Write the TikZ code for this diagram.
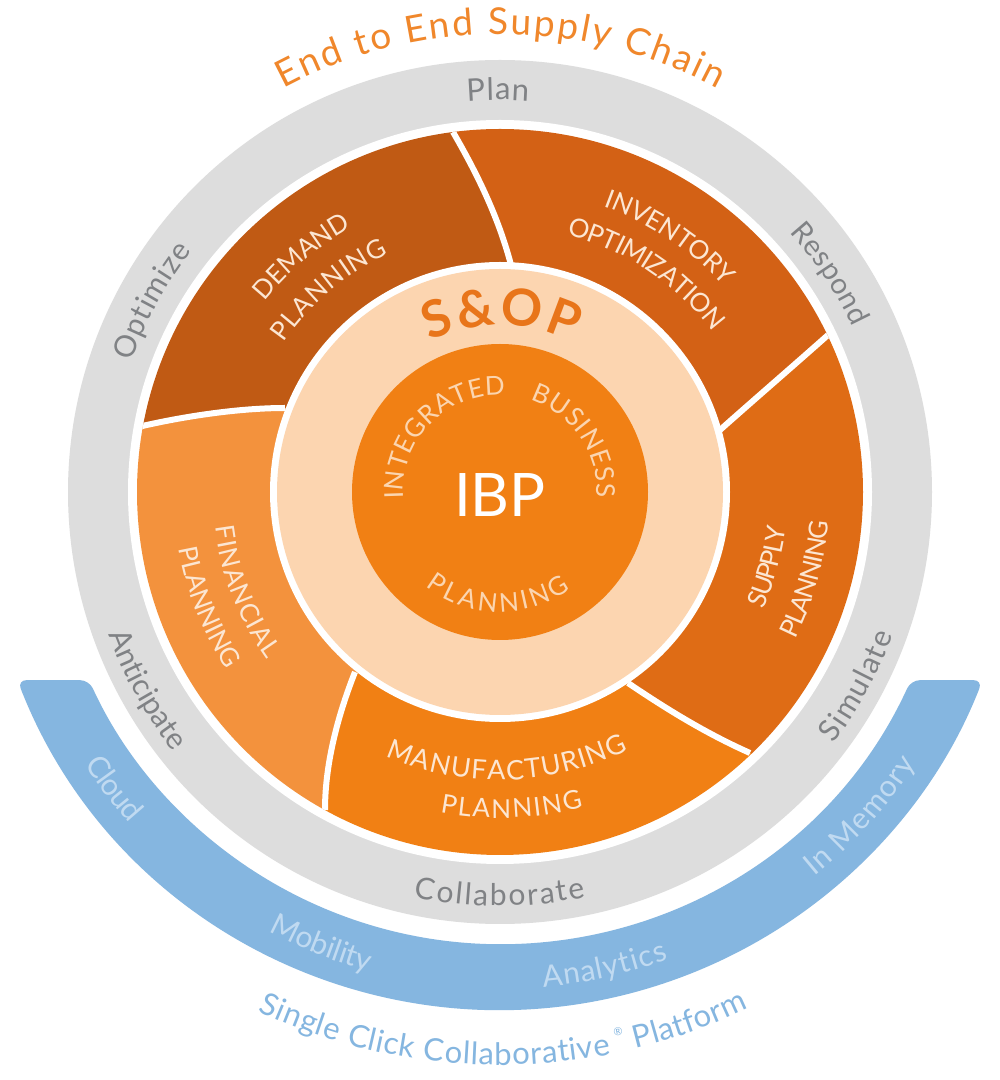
\documentclass[tikz,border=0pt]{standalone}
\usepackage{fontspec}
\setmainfont{Lato}
\definecolor{ringgray}{HTML}{DDDDDD}
\definecolor{graytext}{HTML}{808285}
\definecolor{bandblue}{HTML}{85B6E0}
\definecolor{bandtext}{HTML}{C0DAF1}
\definecolor{titleorange}{HTML}{F0872B}
\definecolor{demandc}{HTML}{C05A14}
\definecolor{inventoryc}{HTML}{D36115}
\definecolor{supplyc}{HTML}{DF6C15}
\definecolor{manufc}{HTML}{F18014}
\definecolor{financec}{HTML}{F3923D}
\definecolor{peach}{HTML}{FCD5B0}
\definecolor{sopc}{HTML}{E8751A}
\definecolor{labelc}{HTML}{FCE6D2}
\definecolor{ibptext}{HTML}{FBD5B0}
\newdimen\arcwtot
\newcount\arcn
\def\arcextra{}
\def\arcspacetok{\ }
\makeatletter
% radius, start angle, end angle, font size, colour, text (word gaps written as "\ ")
\newcommand{\arcmeasure}[2]{%
  \setbox0\hbox{\pgfinterruptpicture\fontsize{#1}{#1}\selectfont\arcextra #2\endpgfinterruptpicture}}
\newcommand{\arctext}[6]{%
  \begingroup
  \arcwtot=0pt \arcn=0 %
  \@tfor\arcch:=#6\do{%
    \arcmeasure{#4}{\arcch}%
    \advance\arcwtot by \wd0 %
    \advance\arcn by 1 %
  }%
  \pgfmathsetmacro\arcdir{(#3>#2)?1:-1}%
  \pgfmathsetmacro\arcgap{(abs(#3-#2)*pi/180*#1-\the\arcwtot)/(\the\arcn-1)}%
  \def\arcs{0}%
  \@tfor\arcch:=#6\do{%
    \arcmeasure{#4}{\arcch}%
    \pgfmathsetmacro\arcw{\the\wd0}%
    \pgfmathsetmacro\arcang{#2+\arcdir*(\arcs+\arcw/2)/#1*180/pi}%
    \pgfmathsetmacro\arcrot{\arcang+\arcdir*90}%
    \ifx\arcch\arcspacetok\else
      \node[anchor=base,inner sep=0pt,rotate=\arcrot,text=#5,
            font=\fontsize{#4}{#4}\selectfont\arcextra] at (\arcang:#1) {\arcch};%
    \fi
    \pgfmathsetmacro\arcs{\arcs+\arcw+\arcgap}%
  }%
  \endgroup
}
\newcommand{\boldarctext}[6]{\begingroup\def\arcextra{\bfseries}\arctext{#1}{#2}{#3}{#4}{#5}{#6}\endgroup}
\makeatother
\tikzset{divider/.style={draw=white,line width=6pt}}
\begin{document}
\begin{tikzpicture}[x=1pt,y=1pt]
\useasboundingbox (0,0) rectangle (1000,1080);
\fill[white] (0,0) rectangle (1000,1080);
\begin{scope}[shift={(500,588)}]
  % platform band
  \fill[bandblue,rounded corners=9pt]
    (201.3:518) arc[start angle=201.3,end angle=338.7,radius=518]
    -- (-24.6:452) arc[start angle=-24.6,end angle=-155.4,radius=452] -- cycle;
  % process ring
  \fill[ringgray] (0,0) circle[radius=432];
  \fill[white] (0,0) circle[radius=372];
\end{scope}
% planning sectors
\begin{scope}
  \clip (500,588) circle[radius=363];
  \fill[demandc] (500,588) -- (511,815) .. controls (498,865) and (475,910) .. (453,948)
    -- (440,975) -- (100,975) -- (100,650) -- (138,653)
    .. controls (185,664) and (240,672) .. (285,672) -- cycle;
  \fill[inventoryc] (500,588) -- (511,815) .. controls (498,865) and (475,910) .. (453,948)
    -- (440,975) -- (900,975) -- (850,765) -- (828,745)
    .. controls (792,713) and (756,682) .. (720,650) -- cycle;
  \fill[supplyc] (500,588) -- (720,650) .. controls (756,682) and (792,713) .. (828,745)
    -- (850,765) -- (950,765) -- (950,250) -- (770,315) -- (750,327)
    .. controls (705,347) and (665,372) .. (628,397) -- cycle;
  \fill[manufc] (500,588) -- (628,397) .. controls (665,372) and (705,347) .. (750,327)
    -- (770,315) -- (770,100) -- (320,100) -- (325,270)
    .. controls (325,320) and (340,370) .. (355,408) -- cycle;
  \fill[financec] (500,588) -- (355,408) .. controls (340,370) and (325,320) .. (325,270)
    -- (320,100) -- (50,100) -- (50,650) -- (138,653)
    .. controls (185,664) and (240,672) .. (285,672) -- cycle;
  \draw[divider] (453,948) .. controls (475,910) and (498,865) .. (511,815);
  \draw[divider] (828,745) .. controls (792,713) and (756,682) .. (720,650);
  \draw[divider] (750,327) .. controls (705,347) and (665,372) .. (628,397);
  \draw[divider] (325,270) .. controls (325,320) and (340,370) .. (355,408);
  \draw[divider] (138,653) .. controls (185,664) and (240,672) .. (285,672);
\end{scope}
\begin{scope}[shift={(500,588)}]
  \fill[white] (0,0) circle[radius=230];
  \fill[peach] (0,0) circle[radius=223];
  \fill[manufc] (0,0) circle[radius=148];
  \node[text=white,font=\fontsize{60}{60}\selectfont,anchor=center] (ibp) at (0,-3) {IBP};
  % outside titles
  \arctext{458}{118.2}{61.6}{37}{titleorange}{End\ to\ End\ Supply\ Chain}
  \arctext{573}{245}{281.2}{31}{bandblue}{Single\ Click\ Collaborative}
  \arctext{573}{283.7}{295.7}{31}{bandblue}{Platform}
  % process ring labels
  \arctext{392}{94.8}{85.8}{31}{graytext}{Plan}
  \arctext{391}{160.5}{142}{30}{graytext}{Optimize}
  \arctext{389}{41.9}{25.1}{29}{graytext}{Respond}
  \arctext{418}{-37}{-20}{30}{graytext}{Simulate}
  \arctext{414}{-102}{-78}{30}{graytext}{Collaborate}
  \arctext{417}{200}{218.5}{30}{graytext}{Anticipate}
  % band labels
  \arctext{497}{213.3}{221.8}{30}{bandtext}{Cloud}
  \arctext{497}{242.2}{254.7}{30}{bandtext}{Mobility}
  \arctext{497}{-85}{-70.2}{30}{bandtext}{Analytics}
  \arctext{497}{-50.7}{-33.2}{30}{bandtext}{In\ Memory}
  % sector labels
  \arctext{303}{141}{119.3}{26}{labelc}{DEMAND}
  \arctext{263}{145.5}{115}{26}{labelc}{PLANNING}
  \arctext{304}{70}{42.5}{26}{labelc}{INVENTORY}
  \arctext{266}{75.5}{37}{26}{labelc}{OPTIMIZATION}
  \arctext{288}{-24}{-7}{26}{labelc}{SUPPLY}
  \arctext{330}{-26.5}{-5.2}{26}{labelc}{PLANNING}
  \arctext{288}{246.5}{296.4}{27}{labelc}{MANUFACTURING}
  \arctext{326}{259.4}{284.8}{26}{labelc}{PLANNING}
  \arctext{287}{187}{215.6}{26}{labelc}{FINANCIAL}
  \arctext{326}{190}{213}{26}{labelc}{PLANNING}
  % core labels
  \boldarctext{167}{115}{64}{51}{sopc}{S\&OP}
  \arctext{97}{184}{87}{26}{ibptext}{INTEGRATED}
  \arctext{97}{72}{-3.5}{26}{ibptext}{BUSINESS}
  \arctext{120}{232}{306}{26}{ibptext}{PLANNING}
\end{scope}
\node[text=bandblue,font=\fontsize{11}{11}\selectfont,rotate=12,inner sep=0pt] (reg) at (618,48) {®};
\end{tikzpicture}
\end{document}
